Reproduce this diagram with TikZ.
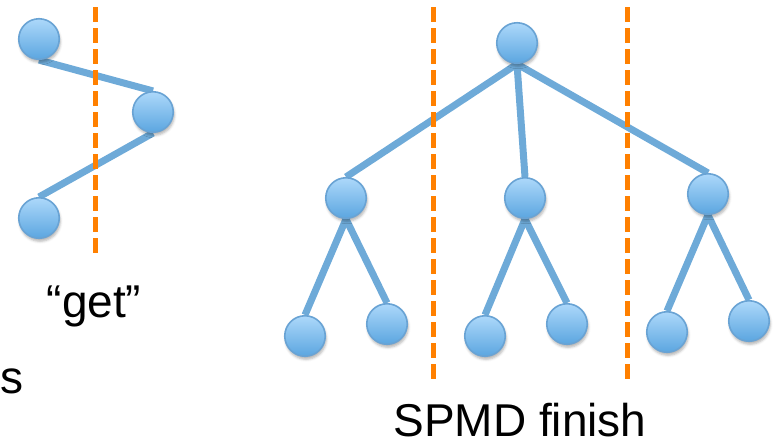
\documentclass[tikz,border=0pt]{standalone}
\usepackage{fontspec}
\setmainfont{Liberation Sans}
\usetikzlibrary{shadows.blur}
\definecolor{nodetop}{RGB}{172,216,250}
\definecolor{nodebot}{RGB}{92,166,224}
\definecolor{noderim}{RGB}{105,163,212}
\definecolor{linkblue}{RGB}{110,170,216}
\definecolor{cutorange}{RGB}{255,128,0}
\pgfdeclarelayer{links}
\pgfsetlayers{links,main}
\tikzset{
  task/.style={circle, minimum size=40.5pt, inner sep=0pt,
    top color=nodetop, bottom color=nodebot, draw=noderim, line width=1.6pt,
    blur shadow={shadow xshift=1pt, shadow yshift=-3pt, shadow opacity=30, shadow blur radius=2.5pt}},
  link/.style={draw=linkblue, line width=7pt},
  cut/.style={draw=cutorange, line width=5pt, dash pattern=on 15pt off 6pt},
  caption/.style={font=\fontsize{46}{50}\selectfont, inner sep=0pt, anchor=base}
}
\begin{document}
\begin{tikzpicture}[x=1pt, y=-1pt]
  \useasboundingbox (0,0) rectangle (776,445);

  % chain of three tasks with a single "get"
  \node[task] (a) at (39,39) {};
  \node[task] (b) at (153,112) {};
  \node[task] (c) at (39,218) {};

  % SPMD tree: root, three children, six leaves
  \node[task] (r)  at (517,43) {};
  \node[task] (m1) at (346,198) {};
  \node[task] (m2) at (525,198) {};
  \node[task] (m3) at (708,194) {};
  \node[task] (l1) at (305,336) {};
  \node[task] (l2) at (387,324) {};
  \node[task] (l3) at (485,336) {};
  \node[task] (l4) at (567,324) {};
  \node[task] (l5) at (667,332) {};
  \node[task] (l6) at (749,321) {};

  \begin{pgfonlayer}{links}
    \draw[link] (a.south) -- (b.north);
    \draw[link] (b.south) -- (c.north);
    \draw[link] (r.south) -- (m1.north);
    \draw[link] (r.south) -- (m2.north);
    \draw[link] (r.south) -- (m3.north);
    \draw[link] (m1.south) -- (l1.north);
    \draw[link] (m1.south) -- (l2.north);
    \draw[link] (m2.south) -- (l3.north);
    \draw[link] (m2.south) -- (l4.north);
    \draw[link] (m3.south) -- (l5.north);
    \draw[link] (m3.south) -- (l6.north);
  \end{pgfonlayer}

  % cut lines
  \coordinate (k1t) at (95,7);   \coordinate (k1b) at (95,258);
  \coordinate (k2t) at (433,7);  \coordinate (k2b) at (433,383);
  \coordinate (k3t) at (627,7);  \coordinate (k3b) at (627,383);
  \draw[cut] (k1t) -- (k1b);
  \draw[cut] (k2t) -- (k2b);
  \draw[cut] (k3t) -- (k3b);

  % labels
  \node[caption] (get) at (94,317) {“get”};
  \node[caption, text depth=0pt] (spmd) at (520,436) {SPMD finish};
  \node[caption, anchor=base east] (tail) at (24,393) {s};
\end{tikzpicture}
\end{document}
